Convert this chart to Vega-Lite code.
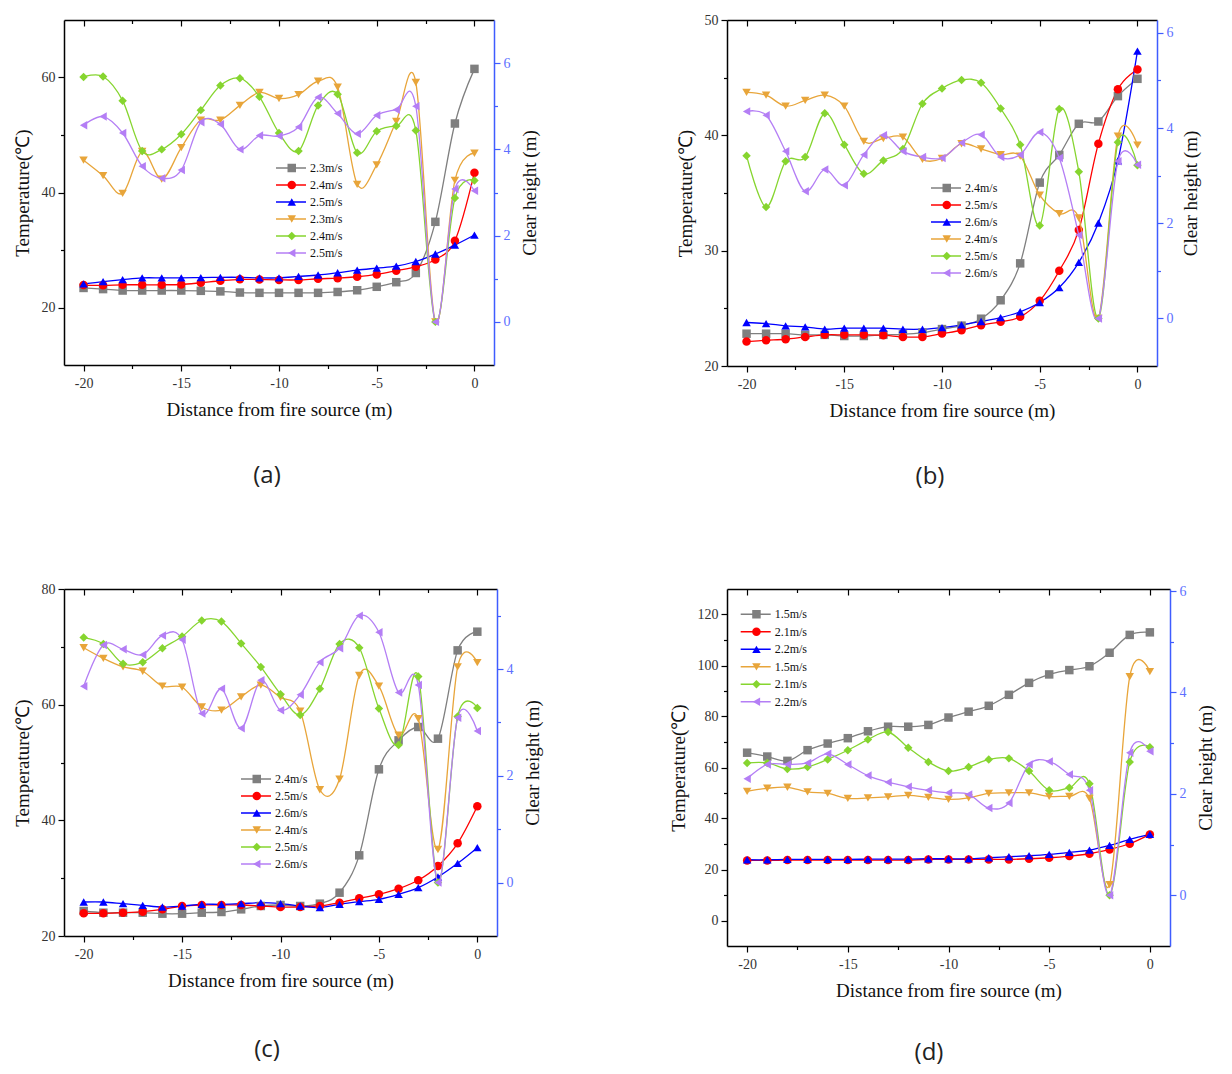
{
"$schema": "https://vega.github.io/schema/vega-lite/v6.json",
"padding": {"left": 13, "top": 13, "right": 5, "bottom": 5},
"bounds": "flush",
"columns": 2,
"spacing": {"row": 223, "column": 230},
"resolve": {"scale": {"stroke": "independent", "fill": "independent", "shape": "independent"}, "legend": {"stroke": "independent", "fill": "independent", "shape": "independent"}},
"datasets": {
"a": [
{"s":"t1","x":-20,"v":23.4},{"s":"t1","x":-19,"v":23.2},{"s":"t1","x":-18,"v":22.95},{"s":"t1","x":-17,"v":22.95},{"s":"t1","x":-16,"v":22.95},{"s":"t1","x":-15,"v":22.95},{"s":"t1","x":-14,"v":22.9},{"s":"t1","x":-13,"v":22.8},{"s":"t1","x":-12,"v":22.6},{"s":"t1","x":-11,"v":22.55},{"s":"t1","x":-10,"v":22.55},{"s":"t1","x":-9,"v":22.55},{"s":"t1","x":-8,"v":22.55},{"s":"t1","x":-7,"v":22.7},{"s":"t1","x":-6,"v":23.0},{"s":"t1","x":-5,"v":23.6},{"s":"t1","x":-4,"v":24.4},{"s":"t1","x":-3,"v":26.0},{"s":"t1","x":-2,"v":34.9},{"s":"t1","x":-1,"v":52.0},{"s":"t1","x":0,"v":61.5},
{"s":"t2","x":-20,"v":23.9},{"s":"t2","x":-19,"v":23.85},{"s":"t2","x":-18,"v":23.95},{"s":"t2","x":-17,"v":23.95},{"s":"t2","x":-16,"v":23.95},{"s":"t2","x":-15,"v":24.0},{"s":"t2","x":-14,"v":24.3},{"s":"t2","x":-13,"v":24.65},{"s":"t2","x":-12,"v":24.9},{"s":"t2","x":-11,"v":24.85},{"s":"t2","x":-10,"v":24.8},{"s":"t2","x":-9,"v":24.8},{"s":"t2","x":-8,"v":25.0},{"s":"t2","x":-7,"v":25.1},{"s":"t2","x":-6,"v":25.35},{"s":"t2","x":-5,"v":25.75},{"s":"t2","x":-4,"v":26.4},{"s":"t2","x":-3,"v":27.1},{"s":"t2","x":-2,"v":28.35},{"s":"t2","x":-1,"v":31.6},{"s":"t2","x":0,"v":43.45},
{"s":"t3","x":-20,"v":24.1},{"s":"t3","x":-19,"v":24.5},{"s":"t3","x":-18,"v":24.85},{"s":"t3","x":-17,"v":25.15},{"s":"t3","x":-16,"v":25.15},{"s":"t3","x":-15,"v":25.15},{"s":"t3","x":-14,"v":25.2},{"s":"t3","x":-13,"v":25.25},{"s":"t3","x":-12,"v":25.25},{"s":"t3","x":-11,"v":25.15},{"s":"t3","x":-10,"v":25.15},{"s":"t3","x":-9,"v":25.4},{"s":"t3","x":-8,"v":25.65},{"s":"t3","x":-7,"v":26.05},{"s":"t3","x":-6,"v":26.5},{"s":"t3","x":-5,"v":26.85},{"s":"t3","x":-4,"v":27.2},{"s":"t3","x":-3,"v":28.0},{"s":"t3","x":-2,"v":29.3},{"s":"t3","x":-1,"v":30.85},{"s":"t3","x":0,"v":32.6},
{"s":"h1","x":-20,"v":3.75},{"s":"h1","x":-19,"v":3.39},{"s":"h1","x":-18,"v":2.98},{"s":"h1","x":-17,"v":3.95},{"s":"h1","x":-16,"v":3.31},{"s":"h1","x":-15,"v":4.04},{"s":"h1","x":-14,"v":4.68},{"s":"h1","x":-13,"v":4.68},{"s":"h1","x":-12,"v":5.02},{"s":"h1","x":-11,"v":5.32},{"s":"h1","x":-10,"v":5.18},{"s":"h1","x":-9,"v":5.27},{"s":"h1","x":-8,"v":5.58},{"s":"h1","x":-7,"v":5.44},{"s":"h1","x":-6,"v":3.19},{"s":"h1","x":-5,"v":3.64},{"s":"h1","x":-4,"v":4.65},{"s":"h1","x":-3,"v":5.55},{"s":"h1","x":-2,"v":0},{"s":"h1","x":-1,"v":3.28},{"s":"h1","x":0,"v":3.91},
{"s":"h2","x":-20,"v":5.68},{"s":"h2","x":-19,"v":5.69},{"s":"h2","x":-18,"v":5.13},{"s":"h2","x":-17,"v":3.96},{"s":"h2","x":-16,"v":4.0},{"s":"h2","x":-15,"v":4.35},{"s":"h2","x":-14,"v":4.91},{"s":"h2","x":-13,"v":5.48},{"s":"h2","x":-12,"v":5.65},{"s":"h2","x":-11,"v":5.22},{"s":"h2","x":-10,"v":4.38},{"s":"h2","x":-9,"v":3.96},{"s":"h2","x":-8,"v":5.02},{"s":"h2","x":-7,"v":5.28},{"s":"h2","x":-6,"v":3.92},{"s":"h2","x":-5,"v":4.42},{"s":"h2","x":-4,"v":4.54},{"s":"h2","x":-3,"v":4.44},{"s":"h2","x":-2,"v":0},{"s":"h2","x":-1,"v":2.87},{"s":"h2","x":0,"v":3.28},
{"s":"h3","x":-20,"v":4.56},{"s":"h3","x":-19,"v":4.76},{"s":"h3","x":-18,"v":4.38},{"s":"h3","x":-17,"v":3.61},{"s":"h3","x":-16,"v":3.33},{"s":"h3","x":-15,"v":3.52},{"s":"h3","x":-14,"v":4.63},{"s":"h3","x":-13,"v":4.58},{"s":"h3","x":-12,"v":4.0},{"s":"h3","x":-11,"v":4.32},{"s":"h3","x":-10,"v":4.31},{"s":"h3","x":-9,"v":4.52},{"s":"h3","x":-8,"v":5.21},{"s":"h3","x":-7,"v":4.83},{"s":"h3","x":-6,"v":4.36},{"s":"h3","x":-5,"v":4.79},{"s":"h3","x":-4,"v":4.92},{"s":"h3","x":-3,"v":5.0},{"s":"h3","x":-2,"v":0},{"s":"h3","x":-1,"v":3.08},{"s":"h3","x":0,"v":3.04}
],
"b": [
{"s":"t1","x":-20,"v":22.8},{"s":"t1","x":-19,"v":22.8},{"s":"t1","x":-18,"v":22.8},{"s":"t1","x":-17,"v":22.7},{"s":"t1","x":-16,"v":22.7},{"s":"t1","x":-15,"v":22.6},{"s":"t1","x":-14,"v":22.6},{"s":"t1","x":-13,"v":22.7},{"s":"t1","x":-12,"v":22.75},{"s":"t1","x":-11,"v":22.9},{"s":"t1","x":-10,"v":23.2},{"s":"t1","x":-9,"v":23.5},{"s":"t1","x":-8,"v":24.1},{"s":"t1","x":-7,"v":25.7},{"s":"t1","x":-6,"v":28.9},{"s":"t1","x":-5,"v":35.9},{"s":"t1","x":-4,"v":38.3},{"s":"t1","x":-3,"v":41.0},{"s":"t1","x":-2,"v":41.2},{"s":"t1","x":-1,"v":43.4},{"s":"t1","x":0,"v":44.9},
{"s":"t2","x":-20,"v":22.12},{"s":"t2","x":-19,"v":22.23},{"s":"t2","x":-18,"v":22.32},{"s":"t2","x":-17,"v":22.52},{"s":"t2","x":-16,"v":22.7},{"s":"t2","x":-15,"v":22.7},{"s":"t2","x":-14,"v":22.7},{"s":"t2","x":-13,"v":22.67},{"s":"t2","x":-12,"v":22.52},{"s":"t2","x":-11,"v":22.52},{"s":"t2","x":-10,"v":22.81},{"s":"t2","x":-9,"v":23.1},{"s":"t2","x":-8,"v":23.54},{"s":"t2","x":-7,"v":23.83},{"s":"t2","x":-6,"v":24.26},{"s":"t2","x":-5,"v":25.65},{"s":"t2","x":-4,"v":28.26},{"s":"t2","x":-3,"v":31.8},{"s":"t2","x":-2,"v":39.28},{"s":"t2","x":-1,"v":44.0},{"s":"t2","x":0,"v":45.71},
{"s":"t3","x":-20,"v":23.77},{"s":"t3","x":-19,"v":23.68},{"s":"t3","x":-18,"v":23.48},{"s":"t3","x":-17,"v":23.39},{"s":"t3","x":-16,"v":23.19},{"s":"t3","x":-15,"v":23.28},{"s":"t3","x":-14,"v":23.28},{"s":"t3","x":-13,"v":23.28},{"s":"t3","x":-12,"v":23.19},{"s":"t3","x":-11,"v":23.19},{"s":"t3","x":-10,"v":23.33},{"s":"t3","x":-9,"v":23.57},{"s":"t3","x":-8,"v":23.86},{"s":"t3","x":-7,"v":24.2},{"s":"t3","x":-6,"v":24.7},{"s":"t3","x":-5,"v":25.5},{"s":"t3","x":-4,"v":26.8},{"s":"t3","x":-3,"v":28.99},{"s":"t3","x":-2,"v":32.4},{"s":"t3","x":-1,"v":37.8},{"s":"t3","x":0,"v":47.3},
{"s":"h1","x":-20,"v":4.75},{"s":"h1","x":-19,"v":4.69},{"s":"h1","x":-18,"v":4.46},{"s":"h1","x":-17,"v":4.58},{"s":"h1","x":-16,"v":4.69},{"s":"h1","x":-15,"v":4.46},{"s":"h1","x":-14,"v":3.72},{"s":"h1","x":-13,"v":3.78},{"s":"h1","x":-12,"v":3.81},{"s":"h1","x":-11,"v":3.34},{"s":"h1","x":-10,"v":3.36},{"s":"h1","x":-9,"v":3.67},{"s":"h1","x":-8,"v":3.56},{"s":"h1","x":-7,"v":3.44},{"s":"h1","x":-6,"v":3.41},{"s":"h1","x":-5,"v":2.59},{"s":"h1","x":-4,"v":2.2},{"s":"h1","x":-3,"v":2.11},{"s":"h1","x":-2,"v":0},{"s":"h1","x":-1,"v":3.83},{"s":"h1","x":0,"v":3.64},
{"s":"h2","x":-20,"v":3.42},{"s":"h2","x":-19,"v":2.34},{"s":"h2","x":-18,"v":3.3},{"s":"h2","x":-17,"v":3.39},{"s":"h2","x":-16,"v":4.31},{"s":"h2","x":-15,"v":3.65},{"s":"h2","x":-14,"v":3.04},{"s":"h2","x":-13,"v":3.32},{"s":"h2","x":-12,"v":3.56},{"s":"h2","x":-11,"v":4.51},{"s":"h2","x":-10,"v":4.83},{"s":"h2","x":-9,"v":5.01},{"s":"h2","x":-8,"v":4.95},{"s":"h2","x":-7,"v":4.41},{"s":"h2","x":-6,"v":3.65},{"s":"h2","x":-5,"v":1.95},{"s":"h2","x":-4,"v":4.4},{"s":"h2","x":-3,"v":3.08},{"s":"h2","x":-2,"v":0},{"s":"h2","x":-1,"v":3.7},{"s":"h2","x":0,"v":3.22},
{"s":"h3","x":-20,"v":4.35},{"s":"h3","x":-19,"v":4.27},{"s":"h3","x":-18,"v":3.51},{"s":"h3","x":-17,"v":2.67},{"s":"h3","x":-16,"v":3.13},{"s":"h3","x":-15,"v":2.8},{"s":"h3","x":-14,"v":3.44},{"s":"h3","x":-13,"v":3.85},{"s":"h3","x":-12,"v":3.51},{"s":"h3","x":-11,"v":3.39},{"s":"h3","x":-10,"v":3.37},{"s":"h3","x":-9,"v":3.69},{"s":"h3","x":-8,"v":3.86},{"s":"h3","x":-7,"v":3.39},{"s":"h3","x":-6,"v":3.44},{"s":"h3","x":-5,"v":3.91},{"s":"h3","x":-4,"v":3.37},{"s":"h3","x":-3,"v":1.75},{"s":"h3","x":-2,"v":0},{"s":"h3","x":-1,"v":3.3},{"s":"h3","x":0,"v":3.23}
],
"c": [
{"s":"t1","x":-20,"v":24.32},{"s":"t1","x":-19,"v":24.03},{"s":"t1","x":-18,"v":24.03},{"s":"t1","x":-17,"v":24.03},{"s":"t1","x":-16,"v":23.86},{"s":"t1","x":-15,"v":23.86},{"s":"t1","x":-14,"v":24.03},{"s":"t1","x":-13,"v":24.15},{"s":"t1","x":-12,"v":24.61},{"s":"t1","x":-11,"v":25.19},{"s":"t1","x":-10,"v":25.36},{"s":"t1","x":-9,"v":25.19},{"s":"t1","x":-8,"v":25.59},{"s":"t1","x":-7,"v":27.49},{"s":"t1","x":-6,"v":33.95},{"s":"t1","x":-5,"v":48.82},{"s":"t1","x":-4,"v":53.83},{"s":"t1","x":-3,"v":56.14},{"s":"t1","x":-2,"v":54.12},{"s":"t1","x":-1,"v":69.39},{"s":"t1","x":0,"v":72.62},
{"s":"t2","x":-20,"v":23.92},{"s":"t2","x":-19,"v":23.92},{"s":"t2","x":-18,"v":24.03},{"s":"t2","x":-17,"v":24.21},{"s":"t2","x":-16,"v":24.61},{"s":"t2","x":-15,"v":25.19},{"s":"t2","x":-14,"v":25.36},{"s":"t2","x":-13,"v":25.36},{"s":"t2","x":-12,"v":25.36},{"s":"t2","x":-11,"v":25.19},{"s":"t2","x":-10,"v":25.01},{"s":"t2","x":-9,"v":25.01},{"s":"t2","x":-8,"v":25.19},{"s":"t2","x":-7,"v":25.76},{"s":"t2","x":-6,"v":26.51},{"s":"t2","x":-5,"v":27.2},{"s":"t2","x":-4,"v":28.18},{"s":"t2","x":-3,"v":29.63},{"s":"t2","x":-2,"v":32.1},{"s":"t2","x":-1,"v":36.02},{"s":"t2","x":0,"v":42.42},
{"s":"t3","x":-20,"v":25.88},{"s":"t3","x":-19,"v":25.88},{"s":"t3","x":-18,"v":25.59},{"s":"t3","x":-17,"v":25.3},{"s":"t3","x":-16,"v":25.01},{"s":"t3","x":-15,"v":25.19},{"s":"t3","x":-14,"v":25.48},{"s":"t3","x":-13,"v":25.48},{"s":"t3","x":-12,"v":25.59},{"s":"t3","x":-11,"v":25.76},{"s":"t3","x":-10,"v":25.59},{"s":"t3","x":-9,"v":25.19},{"s":"t3","x":-8,"v":24.9},{"s":"t3","x":-7,"v":25.48},{"s":"t3","x":-6,"v":25.94},{"s":"t3","x":-5,"v":26.34},{"s":"t3","x":-4,"v":27.2},{"s":"t3","x":-3,"v":28.36},{"s":"t3","x":-2,"v":30.2},{"s":"t3","x":-1,"v":32.57},{"s":"t3","x":0,"v":35.28},
{"s":"h1","x":-20,"v":4.4},{"s":"h1","x":-19,"v":4.2},{"s":"h1","x":-18,"v":4.04},{"s":"h1","x":-17,"v":3.96},{"s":"h1","x":-16,"v":3.68},{"s":"h1","x":-15,"v":3.66},{"s":"h1","x":-14,"v":3.29},{"s":"h1","x":-13,"v":3.23},{"s":"h1","x":-12,"v":3.48},{"s":"h1","x":-11,"v":3.7},{"s":"h1","x":-10,"v":3.47},{"s":"h1","x":-9,"v":3.21},{"s":"h1","x":-8,"v":1.74},{"s":"h1","x":-7,"v":1.94},{"s":"h1","x":-6,"v":3.88},{"s":"h1","x":-5,"v":3.68},{"s":"h1","x":-4,"v":2.76},{"s":"h1","x":-3,"v":3.07},{"s":"h1","x":-2,"v":0.62},{"s":"h1","x":-1,"v":4.04},{"s":"h1","x":0,"v":4.12},
{"s":"h2","x":-20,"v":4.59},{"s":"h2","x":-19,"v":4.47},{"s":"h2","x":-18,"v":4.1},{"s":"h2","x":-17,"v":4.13},{"s":"h2","x":-16,"v":4.39},{"s":"h2","x":-15,"v":4.61},{"s":"h2","x":-14,"v":4.91},{"s":"h2","x":-13,"v":4.89},{"s":"h2","x":-12,"v":4.48},{"s":"h2","x":-11,"v":4.04},{"s":"h2","x":-10,"v":3.53},{"s":"h2","x":-9,"v":3.14},{"s":"h2","x":-8,"v":3.63},{"s":"h2","x":-7,"v":4.47},{"s":"h2","x":-6,"v":4.4},{"s":"h2","x":-5,"v":3.26},{"s":"h2","x":-4,"v":2.58},{"s":"h2","x":-3,"v":3.86},{"s":"h2","x":-2,"v":0},{"s":"h2","x":-1,"v":3.11},{"s":"h2","x":0,"v":3.27},
{"s":"h3","x":-20,"v":3.68},{"s":"h3","x":-19,"v":4.45},{"s":"h3","x":-18,"v":4.37},{"s":"h3","x":-17,"v":4.27},{"s":"h3","x":-16,"v":4.63},{"s":"h3","x":-15,"v":4.55},{"s":"h3","x":-14,"v":3.17},{"s":"h3","x":-13,"v":3.63},{"s":"h3","x":-12,"v":2.89},{"s":"h3","x":-11,"v":3.79},{"s":"h3","x":-10,"v":3.23},{"s":"h3","x":-9,"v":3.52},{"s":"h3","x":-8,"v":4.13},{"s":"h3","x":-7,"v":4.39},{"s":"h3","x":-6,"v":5.0},{"s":"h3","x":-5,"v":4.69},{"s":"h3","x":-4,"v":3.56},{"s":"h3","x":-3,"v":3.7},{"s":"h3","x":-2,"v":0},{"s":"h3","x":-1,"v":3.09},{"s":"h3","x":0,"v":2.84}
],
"d": [
{"s":"t1","x":-20,"v":65.8},{"s":"t1","x":-19,"v":64.3},{"s":"t1","x":-18,"v":62.6},{"s":"t1","x":-17,"v":66.8},{"s":"t1","x":-16,"v":69.4},{"s":"t1","x":-15,"v":71.5},{"s":"t1","x":-14,"v":74.2},{"s":"t1","x":-13,"v":76.0},{"s":"t1","x":-12,"v":76.0},{"s":"t1","x":-11,"v":76.7},{"s":"t1","x":-10,"v":79.6},{"s":"t1","x":-9,"v":81.9},{"s":"t1","x":-8,"v":84.2},{"s":"t1","x":-7,"v":88.5},{"s":"t1","x":-6,"v":93.2},{"s":"t1","x":-5,"v":96.5},{"s":"t1","x":-4,"v":98.2},{"s":"t1","x":-3,"v":99.7},{"s":"t1","x":-2,"v":105.0},{"s":"t1","x":-1,"v":112.0},{"s":"t1","x":0,"v":113.0},
{"s":"t2","x":-20,"v":23.56},{"s":"t2","x":-19,"v":23.56},{"s":"t2","x":-18,"v":23.69},{"s":"t2","x":-17,"v":23.69},{"s":"t2","x":-16,"v":23.69},{"s":"t2","x":-15,"v":23.69},{"s":"t2","x":-14,"v":23.69},{"s":"t2","x":-13,"v":23.69},{"s":"t2","x":-12,"v":23.69},{"s":"t2","x":-11,"v":23.95},{"s":"t2","x":-10,"v":23.95},{"s":"t2","x":-9,"v":23.95},{"s":"t2","x":-8,"v":23.95},{"s":"t2","x":-7,"v":23.95},{"s":"t2","x":-6,"v":24.21},{"s":"t2","x":-5,"v":24.61},{"s":"t2","x":-4,"v":25.26},{"s":"t2","x":-3,"v":26.18},{"s":"t2","x":-2,"v":27.88},{"s":"t2","x":-1,"v":30.1},{"s":"t2","x":0,"v":33.77},
{"s":"t3","x":-20,"v":23.82},{"s":"t3","x":-19,"v":23.82},{"s":"t3","x":-18,"v":23.95},{"s":"t3","x":-17,"v":23.95},{"s":"t3","x":-16,"v":23.95},{"s":"t3","x":-15,"v":23.95},{"s":"t3","x":-14,"v":24.08},{"s":"t3","x":-13,"v":24.08},{"s":"t3","x":-12,"v":24.08},{"s":"t3","x":-11,"v":24.21},{"s":"t3","x":-10,"v":24.21},{"s":"t3","x":-9,"v":24.21},{"s":"t3","x":-8,"v":24.61},{"s":"t3","x":-7,"v":25.0},{"s":"t3","x":-6,"v":25.39},{"s":"t3","x":-5,"v":25.92},{"s":"t3","x":-4,"v":26.7},{"s":"t3","x":-3,"v":27.62},{"s":"t3","x":-2,"v":29.45},{"s":"t3","x":-1,"v":31.81},{"s":"t3","x":0,"v":33.77},
{"s":"h1","x":-20,"v":2.05},{"s":"h1","x":-19,"v":2.11},{"s":"h1","x":-18,"v":2.13},{"s":"h1","x":-17,"v":2.04},{"s":"h1","x":-16,"v":2.01},{"s":"h1","x":-15,"v":1.91},{"s":"h1","x":-14,"v":1.92},{"s":"h1","x":-13,"v":1.94},{"s":"h1","x":-12,"v":1.97},{"s":"h1","x":-11,"v":1.93},{"s":"h1","x":-10,"v":1.89},{"s":"h1","x":-9,"v":1.92},{"s":"h1","x":-8,"v":2.01},{"s":"h1","x":-7,"v":2.02},{"s":"h1","x":-6,"v":2.02},{"s":"h1","x":-5,"v":1.95},{"s":"h1","x":-4,"v":1.95},{"s":"h1","x":-3,"v":1.91},{"s":"h1","x":-2,"v":0.21},{"s":"h1","x":-1,"v":4.31},{"s":"h1","x":0,"v":4.41},
{"s":"h2","x":-20,"v":2.61},{"s":"h2","x":-19,"v":2.61},{"s":"h2","x":-18,"v":2.49},{"s":"h2","x":-17,"v":2.53},{"s":"h2","x":-16,"v":2.68},{"s":"h2","x":-15,"v":2.86},{"s":"h2","x":-14,"v":3.07},{"s":"h2","x":-13,"v":3.22},{"s":"h2","x":-12,"v":2.91},{"s":"h2","x":-11,"v":2.63},{"s":"h2","x":-10,"v":2.45},{"s":"h2","x":-9,"v":2.53},{"s":"h2","x":-8,"v":2.68},{"s":"h2","x":-7,"v":2.7},{"s":"h2","x":-6,"v":2.45},{"s":"h2","x":-5,"v":2.07},{"s":"h2","x":-4,"v":2.12},{"s":"h2","x":-3,"v":2.2},{"s":"h2","x":-2,"v":0},{"s":"h2","x":-1,"v":2.63},{"s":"h2","x":0,"v":2.92},
{"s":"h3","x":-20,"v":2.3},{"s":"h3","x":-19,"v":2.58},{"s":"h3","x":-18,"v":2.58},{"s":"h3","x":-17,"v":2.61},{"s":"h3","x":-16,"v":2.79},{"s":"h3","x":-15,"v":2.58},{"s":"h3","x":-14,"v":2.36},{"s":"h3","x":-13,"v":2.23},{"s":"h3","x":-12,"v":2.14},{"s":"h3","x":-11,"v":2.07},{"s":"h3","x":-10,"v":2.02},{"s":"h3","x":-9,"v":1.99},{"s":"h3","x":-8,"v":1.72},{"s":"h3","x":-7,"v":1.82},{"s":"h3","x":-6,"v":2.58},{"s":"h3","x":-5,"v":2.64},{"s":"h3","x":-4,"v":2.38},{"s":"h3","x":-3,"v":2.07},{"s":"h3","x":-2,"v":0},{"s":"h3","x":-1,"v":2.81},{"s":"h3","x":0,"v":2.84}
]
},
"concat": [
{
"width": 430, "height": 345,
"data": {"name": "a"},
"title": {"text": "(a)", "orient": "bottom", "anchor": "middle", "frame": "group", "offset": 45, "dx": -12},
"layer": [
{"transform": [{"filter": {"field": "s", "oneOf": ["t1","t2","t3"]}}],
"encoding": {
"x": {"field": "x", "type": "quantitative", "scale": {"domain": [-21, 1], "nice": false, "zero": false}, "axis": {"orient": "bottom", "values": [-20,-17.5,-15,-12.5,-10,-7.5,-5,-2.5,0], "labelExpr": "datum.value % 5 == 0 ? toString(datum.value) : ''", "labelPadding": 5, "tickSize": {"condition": {"test": "datum.value % 5 == 0", "value": 6}, "value": 3.5}, "title": "Distance from fire source (m)", "titlePadding": 10}},
"y": {"field": "v", "type": "quantitative", "scale": {"domain": [10, 70], "nice": false, "zero": false}, "axis": {"orient": "left", "values": [20,30,40,50,60], "labelExpr": "datum.value % 20 == 0 ? datum.label : ''", "tickSize": {"condition": {"test": "datum.value % 20 == 0", "value": 6}, "value": 3.5}, "title": "Temperature(℃)", "titlePadding": 9}}
},
"layer": [
{"mark": {"type": "line", "interpolate": "cardinal", "strokeWidth": 1.3}, "encoding": {"stroke": {"field": "s", "type": "nominal", "scale": {"domain": ["t1","t2","t3","h1","h2","h3"], "range": ["#7f7f7f","#ff0000","#0000ff","#e8a53a","#86d52f","#b47ef5"]}, "legend": {"title": null, "orient": "none", "legendX": 211, "legendY": 139.5, "symbolType": "stroke", "symbolSize": 900, "labelOffset": 3, "labelExpr": "datum.label == 't1' || datum.label == 'h1' ? '2.3m/s' : (datum.label == 't2' || datum.label == 'h2' ? '2.4m/s' : '2.5m/s')"}}}},
{"mark": {"type": "point", "filled": true, "size": 72, "opacity": 1}, "encoding": {"fill": {"field": "s", "type": "nominal", "scale": {"domain": ["h1","h2","h3","t1","t2","t3"], "range": ["#e8a53a","#86d52f","#b47ef5","#7f7f7f","#ff0000","#0000ff"]}, "legend": {"title": null, "orient": "none", "legendX": 221.75, "legendY": 139.5, "values": ["t1","t2","t3","h1","h2","h3"], "symbolSize": 72, "labelExpr": "''"}}, "shape": {"field": "s", "type": "nominal", "scale": {"domain": ["h1","h2","h3","t1","t2","t3"], "range": ["triangle-down","diamond","triangle-left","square","circle","triangle-up"]}, "legend": {"title": null, "orient": "none", "legendX": 221.75, "legendY": 139.5, "values": ["t1","t2","t3","h1","h2","h3"], "symbolSize": 72, "labelExpr": "''"}}}}
]},
{"transform": [{"filter": {"field": "s", "oneOf": ["h1","h2","h3"]}}],
"encoding": {
"x": {"field": "x", "type": "quantitative", "scale": {"domain": [-21, 1], "nice": false, "zero": false}, "axis": {"orient": "top", "values": [-20,-17.5,-15,-12.5,-10,-7.5,-5,-2.5,0], "labels": false, "title": null, "tickSize": {"condition": {"test": "datum.value % 5 == 0", "value": -6}, "value": -3.5}}},
"y": {"field": "v", "type": "quantitative", "scale": {"domain": [-1, 7], "nice": false, "zero": false}, "axis": {"orient": "right", "values": [0,1,2,3,4,5,6], "labelExpr": "datum.value % 2 == 0 ? datum.label : ''", "tickSize": {"condition": {"test": "datum.value % 2 == 0", "value": 6}, "value": 3.5}, "domainColor": "#3f5cff", "tickColor": "#3f5cff", "labelColor": "#5d70ff", "title": "Clear height (m)", "titleAngle": 270, "titleBaseline": "top", "titlePadding": 10}}
},
"layer": [
{"mark": {"type": "line", "interpolate": "cardinal", "strokeWidth": 1.3}, "encoding": {"stroke": {"field": "s", "type": "nominal", "scale": {"domain": ["t1","t2","t3","h1","h2","h3"], "range": ["#7f7f7f","#ff0000","#0000ff","#e8a53a","#86d52f","#b47ef5"]}, "legend": {"title": null, "orient": "none", "legendX": 211, "legendY": 139.5, "symbolType": "stroke", "symbolSize": 900, "labelOffset": 3, "labelExpr": "datum.label == 't1' || datum.label == 'h1' ? '2.3m/s' : (datum.label == 't2' || datum.label == 'h2' ? '2.4m/s' : '2.5m/s')"}}}},
{"mark": {"type": "point", "filled": true, "size": 72, "opacity": 1}, "encoding": {"fill": {"field": "s", "type": "nominal", "scale": {"domain": ["h1","h2","h3","t1","t2","t3"], "range": ["#e8a53a","#86d52f","#b47ef5","#7f7f7f","#ff0000","#0000ff"]}, "legend": {"title": null, "orient": "none", "legendX": 221.75, "legendY": 139.5, "values": ["t1","t2","t3","h1","h2","h3"], "symbolSize": 72, "labelExpr": "''"}}, "shape": {"field": "s", "type": "nominal", "scale": {"domain": ["h1","h2","h3","t1","t2","t3"], "range": ["triangle-down","diamond","triangle-left","square","circle","triangle-up"]}, "legend": {"title": null, "orient": "none", "legendX": 221.75, "legendY": 139.5, "values": ["t1","t2","t3","h1","h2","h3"], "symbolSize": 72, "labelExpr": "''"}}}}
]}
],
"resolve": {"scale": {"y": "independent"}, "axis": {"x": "independent", "y": "independent"}}
},
{
"width": 430, "height": 346,
"data": {"name": "b"},
"title": {"text": "(b)", "orient": "bottom", "anchor": "middle", "frame": "group", "offset": 45, "dx": -12},
"layer": [
{"transform": [{"filter": {"field": "s", "oneOf": ["t1","t2","t3"]}}],
"encoding": {
"x": {"field": "x", "type": "quantitative", "scale": {"domain": [-21, 1], "nice": false, "zero": false}, "axis": {"orient": "bottom", "values": [-20,-17.5,-15,-12.5,-10,-7.5,-5,-2.5,0], "labelExpr": "datum.value % 5 == 0 ? toString(datum.value) : ''", "labelPadding": 5, "tickSize": {"condition": {"test": "datum.value % 5 == 0", "value": 6}, "value": 3.5}, "title": "Distance from fire source (m)", "titlePadding": 10}},
"y": {"field": "v", "type": "quantitative", "scale": {"domain": [20, 50], "nice": false, "zero": false}, "axis": {"orient": "left", "values": [20,25,30,35,40,45,50], "labelExpr": "datum.value % 10 == 0 ? datum.label : ''", "tickSize": {"condition": {"test": "datum.value % 10 == 0", "value": 6}, "value": 3.5}, "title": "Temperature(℃)", "titlePadding": 9}}
},
"layer": [
{"mark": {"type": "line", "interpolate": "cardinal", "strokeWidth": 1.3}, "encoding": {"stroke": {"field": "s", "type": "nominal", "scale": {"domain": ["t1","t2","t3","h1","h2","h3"], "range": ["#7f7f7f","#ff0000","#0000ff","#e8a53a","#86d52f","#b47ef5"]}, "legend": {"title": null, "orient": "none", "legendX": 203, "legendY": 159.5, "symbolType": "stroke", "symbolSize": 900, "labelOffset": 3, "labelExpr": "datum.label == 't1' || datum.label == 'h1' ? '2.4m/s' : (datum.label == 't2' || datum.label == 'h2' ? '2.5m/s' : '2.6m/s')"}}}},
{"mark": {"type": "point", "filled": true, "size": 72, "opacity": 1}, "encoding": {"fill": {"field": "s", "type": "nominal", "scale": {"domain": ["h1","h2","h3","t1","t2","t3"], "range": ["#e8a53a","#86d52f","#b47ef5","#7f7f7f","#ff0000","#0000ff"]}, "legend": {"title": null, "orient": "none", "legendX": 213.75, "legendY": 159.5, "values": ["t1","t2","t3","h1","h2","h3"], "symbolSize": 72, "labelExpr": "''"}}, "shape": {"field": "s", "type": "nominal", "scale": {"domain": ["h1","h2","h3","t1","t2","t3"], "range": ["triangle-down","diamond","triangle-left","square","circle","triangle-up"]}, "legend": {"title": null, "orient": "none", "legendX": 213.75, "legendY": 159.5, "values": ["t1","t2","t3","h1","h2","h3"], "symbolSize": 72, "labelExpr": "''"}}}}
]},
{"transform": [{"filter": {"field": "s", "oneOf": ["h1","h2","h3"]}}],
"encoding": {
"x": {"field": "x", "type": "quantitative", "scale": {"domain": [-21, 1], "nice": false, "zero": false}, "axis": {"orient": "top", "values": [-20,-17.5,-15,-12.5,-10,-7.5,-5,-2.5,0], "labels": false, "title": null, "tickSize": {"condition": {"test": "datum.value % 5 == 0", "value": -6}, "value": -3.5}}},
"y": {"field": "v", "type": "quantitative", "scale": {"domain": [-1, 6.27], "nice": false, "zero": false}, "axis": {"orient": "right", "values": [0,1,2,3,4,5,6], "labelExpr": "datum.value % 2 == 0 ? datum.label : ''", "tickSize": {"condition": {"test": "datum.value % 2 == 0", "value": 6}, "value": 3.5}, "domainColor": "#3f5cff", "tickColor": "#3f5cff", "labelColor": "#5d70ff", "title": "Clear height (m)", "titleAngle": 270, "titleBaseline": "top", "titlePadding": 8}}
},
"layer": [
{"mark": {"type": "line", "interpolate": "cardinal", "strokeWidth": 1.3}, "encoding": {"stroke": {"field": "s", "type": "nominal", "scale": {"domain": ["t1","t2","t3","h1","h2","h3"], "range": ["#7f7f7f","#ff0000","#0000ff","#e8a53a","#86d52f","#b47ef5"]}, "legend": {"title": null, "orient": "none", "legendX": 203, "legendY": 159.5, "symbolType": "stroke", "symbolSize": 900, "labelOffset": 3, "labelExpr": "datum.label == 't1' || datum.label == 'h1' ? '2.4m/s' : (datum.label == 't2' || datum.label == 'h2' ? '2.5m/s' : '2.6m/s')"}}}},
{"mark": {"type": "point", "filled": true, "size": 72, "opacity": 1}, "encoding": {"fill": {"field": "s", "type": "nominal", "scale": {"domain": ["h1","h2","h3","t1","t2","t3"], "range": ["#e8a53a","#86d52f","#b47ef5","#7f7f7f","#ff0000","#0000ff"]}, "legend": {"title": null, "orient": "none", "legendX": 213.75, "legendY": 159.5, "values": ["t1","t2","t3","h1","h2","h3"], "symbolSize": 72, "labelExpr": "''"}}, "shape": {"field": "s", "type": "nominal", "scale": {"domain": ["h1","h2","h3","t1","t2","t3"], "range": ["triangle-down","diamond","triangle-left","square","circle","triangle-up"]}, "legend": {"title": null, "orient": "none", "legendX": 213.75, "legendY": 159.5, "values": ["t1","t2","t3","h1","h2","h3"], "symbolSize": 72, "labelExpr": "''"}}}}
]}
],
"resolve": {"scale": {"y": "independent"}, "axis": {"x": "independent", "y": "independent"}}
},
{
"width": 433, "height": 347,
"data": {"name": "c"},
"title": {"text": "(c)", "orient": "bottom", "anchor": "middle", "frame": "group", "offset": 48, "dx": -13.5},
"layer": [
{"transform": [{"filter": {"field": "s", "oneOf": ["t1","t2","t3"]}}],
"encoding": {
"x": {"field": "x", "type": "quantitative", "scale": {"domain": [-21, 1], "nice": false, "zero": false}, "axis": {"orient": "bottom", "values": [-20,-17.5,-15,-12.5,-10,-7.5,-5,-2.5,0], "labelExpr": "datum.value % 5 == 0 ? toString(datum.value) : ''", "labelPadding": 5, "tickSize": {"condition": {"test": "datum.value % 5 == 0", "value": 6}, "value": 3.5}, "title": "Distance from fire source (m)", "titlePadding": 10}},
"y": {"field": "v", "type": "quantitative", "scale": {"domain": [20, 80], "nice": false, "zero": false}, "axis": {"orient": "left", "values": [20,30,40,50,60,70,80], "labelExpr": "datum.value % 20 == 0 ? datum.label : ''", "tickSize": {"condition": {"test": "datum.value % 20 == 0", "value": 6}, "value": 3.5}, "title": "Temperature(℃)", "titlePadding": 9}}
},
"layer": [
{"mark": {"type": "line", "interpolate": "cardinal", "strokeWidth": 1.3}, "encoding": {"stroke": {"field": "s", "type": "nominal", "scale": {"domain": ["t1","t2","t3","h1","h2","h3"], "range": ["#7f7f7f","#ff0000","#0000ff","#e8a53a","#86d52f","#b47ef5"]}, "legend": {"title": null, "orient": "none", "legendX": 176, "legendY": 181.5, "symbolType": "stroke", "symbolSize": 900, "labelOffset": 3, "labelExpr": "datum.label == 't1' || datum.label == 'h1' ? '2.4m/s' : (datum.label == 't2' || datum.label == 'h2' ? '2.5m/s' : '2.6m/s')"}}}},
{"mark": {"type": "point", "filled": true, "size": 72, "opacity": 1}, "encoding": {"fill": {"field": "s", "type": "nominal", "scale": {"domain": ["h1","h2","h3","t1","t2","t3"], "range": ["#e8a53a","#86d52f","#b47ef5","#7f7f7f","#ff0000","#0000ff"]}, "legend": {"title": null, "orient": "none", "legendX": 186.75, "legendY": 181.5, "values": ["t1","t2","t3","h1","h2","h3"], "symbolSize": 72, "labelExpr": "''"}}, "shape": {"field": "s", "type": "nominal", "scale": {"domain": ["h1","h2","h3","t1","t2","t3"], "range": ["triangle-down","diamond","triangle-left","square","circle","triangle-up"]}, "legend": {"title": null, "orient": "none", "legendX": 186.75, "legendY": 181.5, "values": ["t1","t2","t3","h1","h2","h3"], "symbolSize": 72, "labelExpr": "''"}}}}
]},
{"transform": [{"filter": {"field": "s", "oneOf": ["h1","h2","h3"]}}],
"encoding": {
"x": {"field": "x", "type": "quantitative", "scale": {"domain": [-21, 1], "nice": false, "zero": false}, "axis": {"orient": "top", "values": [-20,-17.5,-15,-12.5,-10,-7.5,-5,-2.5,0], "labels": false, "title": null, "tickSize": {"condition": {"test": "datum.value % 5 == 0", "value": -6}, "value": -3.5}}},
"y": {"field": "v", "type": "quantitative", "scale": {"domain": [-1, 5.5], "nice": false, "zero": false}, "axis": {"orient": "right", "values": [0,1,2,3,4,5], "labelExpr": "datum.value % 2 == 0 ? datum.label : ''", "tickSize": {"condition": {"test": "datum.value % 2 == 0", "value": 6}, "value": 3.5}, "domainColor": "#3f5cff", "tickColor": "#3f5cff", "labelColor": "#5d70ff", "title": "Clear height (m)", "titleAngle": 270, "titleBaseline": "top", "titlePadding": 10}}
},
"layer": [
{"mark": {"type": "line", "interpolate": "cardinal", "strokeWidth": 1.3}, "encoding": {"stroke": {"field": "s", "type": "nominal", "scale": {"domain": ["t1","t2","t3","h1","h2","h3"], "range": ["#7f7f7f","#ff0000","#0000ff","#e8a53a","#86d52f","#b47ef5"]}, "legend": {"title": null, "orient": "none", "legendX": 176, "legendY": 181.5, "symbolType": "stroke", "symbolSize": 900, "labelOffset": 3, "labelExpr": "datum.label == 't1' || datum.label == 'h1' ? '2.4m/s' : (datum.label == 't2' || datum.label == 'h2' ? '2.5m/s' : '2.6m/s')"}}}},
{"mark": {"type": "point", "filled": true, "size": 72, "opacity": 1}, "encoding": {"fill": {"field": "s", "type": "nominal", "scale": {"domain": ["h1","h2","h3","t1","t2","t3"], "range": ["#e8a53a","#86d52f","#b47ef5","#7f7f7f","#ff0000","#0000ff"]}, "legend": {"title": null, "orient": "none", "legendX": 186.75, "legendY": 181.5, "values": ["t1","t2","t3","h1","h2","h3"], "symbolSize": 72, "labelExpr": "''"}}, "shape": {"field": "s", "type": "nominal", "scale": {"domain": ["h1","h2","h3","t1","t2","t3"], "range": ["triangle-down","diamond","triangle-left","square","circle","triangle-up"]}, "legend": {"title": null, "orient": "none", "legendX": 186.75, "legendY": 181.5, "values": ["t1","t2","t3","h1","h2","h3"], "symbolSize": 72, "labelExpr": "''"}}}}
]}
],
"resolve": {"scale": {"y": "independent"}, "axis": {"x": "independent", "y": "independent"}}
},
{
"width": 443, "height": 357,
"data": {"name": "d"},
"title": {"text": "(d)", "orient": "bottom", "anchor": "middle", "frame": "group", "offset": 41, "dx": -19.5},
"layer": [
{"transform": [{"filter": {"field": "s", "oneOf": ["t1","t2","t3"]}}],
"encoding": {
"x": {"field": "x", "type": "quantitative", "scale": {"domain": [-21, 1], "nice": false, "zero": false}, "axis": {"orient": "bottom", "values": [-20,-17.5,-15,-12.5,-10,-7.5,-5,-2.5,0], "labelExpr": "datum.value % 5 == 0 ? toString(datum.value) : ''", "labelPadding": 5, "tickSize": {"condition": {"test": "datum.value % 5 == 0", "value": 6}, "value": 3.5}, "title": "Distance from fire source (m)", "titlePadding": 10}},
"y": {"field": "v", "type": "quantitative", "scale": {"domain": [-10, 130], "nice": false, "zero": false}, "axis": {"orient": "left", "values": [0,10,20,30,40,50,60,70,80,90,100,110,120], "labelExpr": "datum.value % 20 == 0 ? datum.label : ''", "tickSize": {"condition": {"test": "datum.value % 20 == 0", "value": 6}, "value": 3.5}, "title": "Temperature(℃)", "titlePadding": 9}}
},
"layer": [
{"mark": {"type": "line", "interpolate": "cardinal", "strokeWidth": 1.3}, "encoding": {"stroke": {"field": "s", "type": "nominal", "scale": {"domain": ["t1","t2","t3","h1","h2","h3"], "range": ["#7f7f7f","#ff0000","#0000ff","#e8a53a","#86d52f","#b47ef5"]}, "legend": {"title": null, "orient": "none", "legendX": 12.7, "legendY": 16.8, "rowPadding": 0.5, "symbolType": "stroke", "symbolSize": 900, "labelOffset": 3, "labelExpr": "datum.label == 't1' || datum.label == 'h1' ? '1.5m/s' : (datum.label == 't2' || datum.label == 'h2' ? '2.1m/s' : '2.2m/s')"}}}},
{"mark": {"type": "point", "filled": true, "size": 72, "opacity": 1}, "encoding": {"fill": {"field": "s", "type": "nominal", "scale": {"domain": ["h1","h2","h3","t1","t2","t3"], "range": ["#e8a53a","#86d52f","#b47ef5","#7f7f7f","#ff0000","#0000ff"]}, "legend": {"title": null, "orient": "none", "legendX": 23.45, "legendY": 16.8, "rowPadding": 0.5, "values": ["t1","t2","t3","h1","h2","h3"], "symbolSize": 72, "labelExpr": "''"}}, "shape": {"field": "s", "type": "nominal", "scale": {"domain": ["h1","h2","h3","t1","t2","t3"], "range": ["triangle-down","diamond","triangle-left","square","circle","triangle-up"]}, "legend": {"title": null, "orient": "none", "legendX": 23.45, "legendY": 16.8, "rowPadding": 0.5, "values": ["t1","t2","t3","h1","h2","h3"], "symbolSize": 72, "labelExpr": "''"}}}}
]},
{"transform": [{"filter": {"field": "s", "oneOf": ["h1","h2","h3"]}}],
"encoding": {
"x": {"field": "x", "type": "quantitative", "scale": {"domain": [-21, 1], "nice": false, "zero": false}, "axis": {"orient": "top", "values": [-20,-17.5,-15,-12.5,-10,-7.5,-5,-2.5,0], "labels": false, "title": null, "tickSize": {"condition": {"test": "datum.value % 5 == 0", "value": -6}, "value": -3.5}}},
"y": {"field": "v", "type": "quantitative", "scale": {"domain": [-1, 6.04], "nice": false, "zero": false}, "axis": {"orient": "right", "values": [0,1,2,3,4,5,6], "labelExpr": "datum.value % 2 == 0 ? datum.label : ''", "tickSize": {"condition": {"test": "datum.value % 2 == 0", "value": 6}, "value": 3.5}, "domainColor": "#3f5cff", "tickColor": "#3f5cff", "labelColor": "#5d70ff", "title": "Clear height (m)", "titleAngle": 270, "titleBaseline": "top", "titlePadding": 10}}
},
"layer": [
{"mark": {"type": "line", "interpolate": "cardinal", "strokeWidth": 1.3}, "encoding": {"stroke": {"field": "s", "type": "nominal", "scale": {"domain": ["t1","t2","t3","h1","h2","h3"], "range": ["#7f7f7f","#ff0000","#0000ff","#e8a53a","#86d52f","#b47ef5"]}, "legend": {"title": null, "orient": "none", "legendX": 12.7, "legendY": 16.8, "rowPadding": 0.5, "symbolType": "stroke", "symbolSize": 900, "labelOffset": 3, "labelExpr": "datum.label == 't1' || datum.label == 'h1' ? '1.5m/s' : (datum.label == 't2' || datum.label == 'h2' ? '2.1m/s' : '2.2m/s')"}}}},
{"mark": {"type": "point", "filled": true, "size": 72, "opacity": 1}, "encoding": {"fill": {"field": "s", "type": "nominal", "scale": {"domain": ["h1","h2","h3","t1","t2","t3"], "range": ["#e8a53a","#86d52f","#b47ef5","#7f7f7f","#ff0000","#0000ff"]}, "legend": {"title": null, "orient": "none", "legendX": 23.45, "legendY": 16.8, "rowPadding": 0.5, "values": ["t1","t2","t3","h1","h2","h3"], "symbolSize": 72, "labelExpr": "''"}}, "shape": {"field": "s", "type": "nominal", "scale": {"domain": ["h1","h2","h3","t1","t2","t3"], "range": ["triangle-down","diamond","triangle-left","square","circle","triangle-up"]}, "legend": {"title": null, "orient": "none", "legendX": 23.45, "legendY": 16.8, "rowPadding": 0.5, "values": ["t1","t2","t3","h1","h2","h3"], "symbolSize": 72, "labelExpr": "''"}}}}
]}
],
"resolve": {"scale": {"y": "independent"}, "axis": {"x": "independent", "y": "independent"}}
}
],
"config": {
"view": {"stroke": null},
"axis": {"grid": false, "labelFont": "Liberation Serif", "titleFont": "Liberation Serif", "labelFontSize": 14, "titleFontSize": 19, "titleFontWeight": "normal", "labelColor": "#333333", "titleColor": "#111111", "domainColor": "#000000", "tickColor": "#000000", "domainWidth": 1.5, "tickWidth": 1.2, "labelPadding": 3, "labelFlush": false, "labelOverlap": false},
"legend": {"padding": 0, "rowPadding": 0, "clipHeight": 17, "labelFont": "Liberation Serif", "labelFontSize": 12, "labelColor": "#111111", "symbolStrokeWidth": 1.5, "symbolOpacity": 1},
"title": {"font": "Open Sans", "fontSize": 24, "fontWeight": "normal", "color": "#222222"}
}
}
